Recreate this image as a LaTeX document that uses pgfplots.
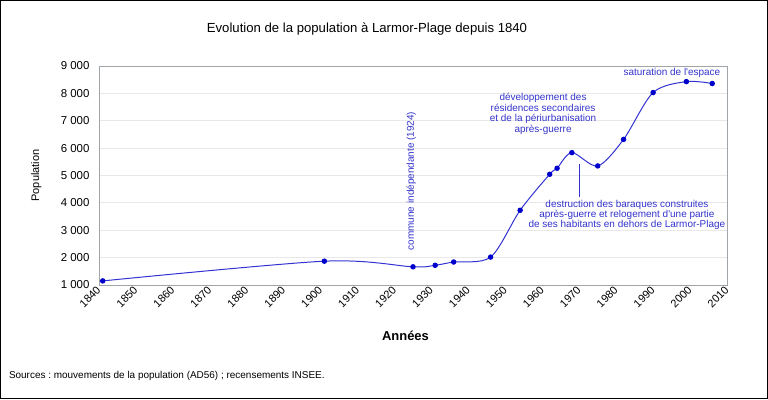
\documentclass[border=0pt]{standalone}
\usepackage{pgfplots}
\pgfplotsset{compat=1.18}
\usepackage{fontspec}
\setmainfont{Liberation Sans}[Ligatures=TeXOff]
\frenchspacing
\definecolor{lineblue}{RGB}{51,51,210}
\definecolor{markblue}{RGB}{0,0,205}
\definecolor{txtblue}{RGB}{51,51,204}
\definecolor{gridgray}{RGB}{232,232,232}
\definecolor{axgray}{RGB}{160,165,170}
\begin{document}
\begin{tikzpicture}[x=1bp,y=1bp]
\useasboundingbox (0,0) rectangle (768,399);
\draw[line width=1.2bp,black] (0.6,0.6) rectangle (767.4,398.4);
\node[font=\fontsize{13.2}{15}\selectfont] at (367,370) {Evolution de la population à Larmor-Plage depuis 1840};
\node[font=\fontsize{10}{12}\selectfont,anchor=west] at (5.5,23) {Sources : mouvements de la population (AD56) ; recensements INSEE.};
\coordinate (O) at (99,114);
\begin{axis}[
  at={(O)}, anchor=south west,
  scale only axis, width=628bp, height=219bp,
  xmin=1840, xmax=2010, ymin=1000, ymax=9000,
  xtick={1840,1850,...,2010},
  ytick={1000,2000,...,9000},
  /pgf/number format/assume math mode=true,
  /pgf/number format/1000 sep={\ },
  x tick label style={/pgf/number format/1000 sep={}, rotate=45, anchor=east, font=\fontsize{11}{13}\selectfont, xshift=1bp, yshift=-2bp},
  y tick label style={font=\fontsize{11.5}{13}\selectfont, xshift=-6bp},
  major tick length=0pt,
  ymajorgrids, major grid style={gridgray, line width=0.8bp},
  axis line style={axgray, line width=0.9bp},
  xlabel={\bfseries Années},
  xlabel style={font=\fontsize{13}{15}\selectfont, at={(axis description cs:0.488,-0.233)}, anchor=center},
  ylabel={Population},
  ylabel style={font=\fontsize{11}{13}\selectfont, at={(axis description cs:-0.1,0.5)}, anchor=center, rotate=0},
  clip=false,
]
\addplot[lineblue, line width=1bp, smooth, tension=0.5, mark=*, mark size=2.2bp, mark options={fill=markblue, draw=markblue}] coordinates {
(1841,1150) (1901,1870) (1925,1665) (1931,1720) (1936,1840) (1946,2020)
(1954,3730) (1962,5045) (1964,5265) (1968,5835) (1975,5350) (1982,6320)
(1990,8030) (1999,8430) (2006,8360)
};
\node[txtblue, rotate=90, font=\fontsize{10}{12}\selectfont] at (axis cs:1924.5,4800) {commune indépendante (1924)};
\node[txtblue, align=center, font=\fontsize{10}{10.5}\selectfont] at (axis cs:1960.2,7250) {développement des\\résidences secondaires\\et de la périurbanisation\\après-guerre};
\draw[txtblue, line width=1bp] (axis cs:1970.2,5420) -- (axis cs:1970.2,4215);
\node[txtblue, align=center, font=\fontsize{10}{10.5}\selectfont] at (axis cs:1982.9,3560) {destruction des baraques construites\\après-guerre et relogement d'une partie\\de ses habitants en dehors de Larmor-Plage};
\node[txtblue, font=\fontsize{10}{12}\selectfont] at (axis cs:1995.1,8760) {saturation de l'espace};
\end{axis}
\end{tikzpicture}
\end{document}
